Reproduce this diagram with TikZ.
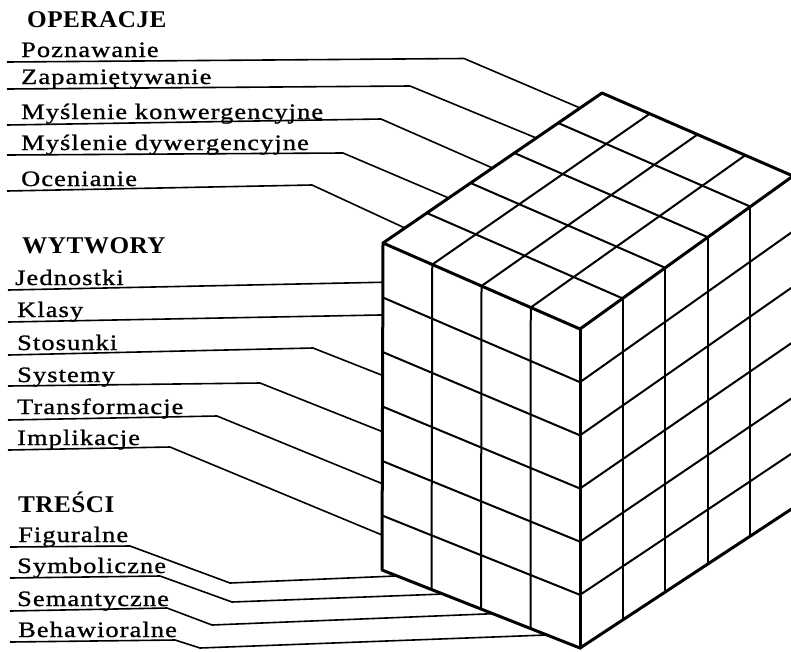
\documentclass[tikz,border=0pt]{standalone}
\usepackage{fontspec}
\setmainfont{Liberation Serif}
\newfontfamily\lblfont[FakeStretch=1.2,LetterSpace=5,FakeBold=1.0]{Liberation Serif}
\newfontfamily\hdrfont[FakeStretch=1.05,LetterSpace=2]{Liberation Serif}
\usetikzlibrary{calc}
\tikzset{
  lbl/.style={font=\lblfont\fontsize{22}{26}\selectfont, anchor=base west, inner sep=0pt},
  hdr/.style={font=\hdrfont\bfseries\fontsize{24}{28}\selectfont, anchor=base west, inner sep=0pt},
  cubeedge/.style={line width=3pt, line join=round, line cap=round},
  cubegrid/.style={line width=2pt},
  leaderline/.style={line width=1.6pt, line join=round},
}
\begin{document}
\begin{tikzpicture}[x=1pt,y=-1pt]
\clip (0,0) rectangle (791,651);
% cube corners
\coordinate (L)  at (383,243);
\coordinate (F)  at (580,329);
\coordinate (R)  at (793,176);
\coordinate (B)  at (602,93);
\coordinate (Lb) at (382,570);
\coordinate (Fb) at (580,648);
\coordinate (Rb) at (793,508);
% top face grid
\foreach \i in {1,2,3} {\draw[cubegrid] ($(L)!\i/4!(F)$) -- ($(B)!\i/4!(R)$);}
\foreach \j in {1,2,3,4} {\draw[cubegrid] ($(L)!\j/5!(B)$) -- ($(F)!\j/5!(R)$);}
% left face grid
\foreach \i in {1,2,3} {\draw[cubegrid] ($(L)!\i/4!(F)$) -- ($(Lb)!\i/4!(Fb)$);}
\foreach \k in {1,...,5} {\draw[cubegrid] ($(L)!\k/6!(Lb)$) -- ($(F)!\k/6!(Fb)$);}
% right face grid
\foreach \j in {1,2,3,4} {\draw[cubegrid] ($(F)!\j/5!(R)$) -- ($(Fb)!\j/5!(Rb)$);}
\foreach \k in {1,...,5} {\draw[cubegrid] ($(F)!\k/6!(Fb)$) -- ($(R)!\k/6!(Rb)$);}
% cube edges
\draw[cubeedge] (L) -- (B) -- (R) -- (Rb) -- (Fb) -- (Lb) -- cycle;
\draw[cubeedge] (L) -- (F) -- (R);
\draw[cubeedge] (F) -- (Fb);

% headers
\node[hdr] (operacje) at (27,27) {OPERACJE};
\node[hdr] (wytwory) at (22,253) {WYTWORY};
\node[hdr] (tresci) at (18,512) {TREŚCI};

% operations labels
\node[lbl] (poz) at (21,57) {Poznawanie};
\node[lbl] (zap) at (21,84) {Zapamiętywanie};
\node[lbl] (mko) at (21,119) {Myślenie konwergencyjne};
\node[lbl] (mdy) at (21,150) {Myślenie dywergencyjne};
\node[lbl] (oce) at (21,186) {Ocenianie};
% products labels
\node[lbl] (jed) at (15,285) {Jednostki};
\node[lbl] (kla) at (17,317) {Klasy};
\node[lbl] (sto) at (17,350) {Stosunki};
\node[lbl] (sys) at (17,382) {Systemy};
\node[lbl] (tra) at (17,414) {Transformacje};
\node[lbl] (imp) at (17,445) {Implikacje};
% contents labels
\node[lbl] (fig) at (18,542) {Figuralne};
\node[lbl] (sym) at (17,573) {Symboliczne};
\node[lbl] (sem) at (17,606) {Semantyczne};
\node[lbl] (beh) at (18,637) {Behawioralne};

% leader coordinates: operations
\coordinate (pzA) at (7,62);   \coordinate (pzK) at (464,58.5); \coordinate (pzH) at ($(B)!0.1!(L)$);
\coordinate (zaA) at (7,89);   \coordinate (zaK) at (410,86);   \coordinate (zaH) at ($(B)!0.3!(L)$);
\coordinate (mkA) at (7,125);  \coordinate (mkK) at (381,119);  \coordinate (mkH) at ($(B)!0.5!(L)$);
\coordinate (mdA) at (7,155);  \coordinate (mdK) at (343,153);  \coordinate (mdH) at ($(B)!0.7!(L)$);
\coordinate (ocA) at (7,191);  \coordinate (ocK) at (312,185);  \coordinate (ocH) at ($(B)!0.9!(L)$);
\draw[leaderline] (pzA) -- (pzK) -- (pzH);
\draw[leaderline] (zaA) -- (zaK) -- (zaH);
\draw[leaderline] (mkA) -- (mkK) -- (mkH);
\draw[leaderline] (mdA) -- (mdK) -- (mdH);
\draw[leaderline] (ocA) -- (ocK) -- (ocH);
% products
\coordinate (jeA) at (8,290);  \coordinate (jeH) at ($(L)!0.12!(Lb)$);
\coordinate (klA) at (8,322);  \coordinate (klH) at ($(L)!0.22!(Lb)$);
\coordinate (stA) at (8,355);  \coordinate (stK) at (313,348); \coordinate (stH) at ($(L)!0.405!(Lb)$);
\coordinate (syA) at (8,386);  \coordinate (syK) at (260,383); \coordinate (syH) at ($(L)!0.577!(Lb)$);
\coordinate (trA) at (8,420);  \coordinate (trK) at (217,416); \coordinate (trH) at ($(L)!0.736!(Lb)$);
\coordinate (imA) at (8,450);  \coordinate (imK) at (170,447); \coordinate (imH) at ($(L)!0.893!(Lb)$);
\draw[leaderline] (jeA) -- (jeH);
\draw[leaderline] (klA) -- (klH);
\draw[leaderline] (stA) -- (stK) -- (stH);
\draw[leaderline] (syA) -- (syK) -- (syH);
\draw[leaderline] (trA) -- (trK) -- (trH);
\draw[leaderline] (imA) -- (imK) -- (imH);
% contents
\coordinate (fiA) at (10,547); \coordinate (fiK) at (130,546); \coordinate (fiM) at (230,583); \coordinate (fiH) at ($(Lb)!0.076!(Fb)$);
\coordinate (smA) at (10,578); \coordinate (smK) at (160,576); \coordinate (smM) at (232,602); \coordinate (smH) at ($(Lb)!0.308!(Fb)$);
\coordinate (seA) at (10,611); \coordinate (seK) at (167,608); \coordinate (seM) at (212,625); \coordinate (seH) at ($(Lb)!0.56!(Fb)$);
\coordinate (beA) at (10,642); \coordinate (beK) at (175,640); \coordinate (beM) at (200,648); \coordinate (beH) at ($(Lb)!0.833!(Fb)$);
\draw[leaderline] (fiA) -- (fiK) -- (fiM) -- (fiH);
\draw[leaderline] (smA) -- (smK) -- (smM) -- (smH);
\draw[leaderline] (seA) -- (seK) -- (seM) -- (seH);
\draw[leaderline] (beA) -- (beK) -- (beM) -- (beH);
\end{tikzpicture}
\end{document}
